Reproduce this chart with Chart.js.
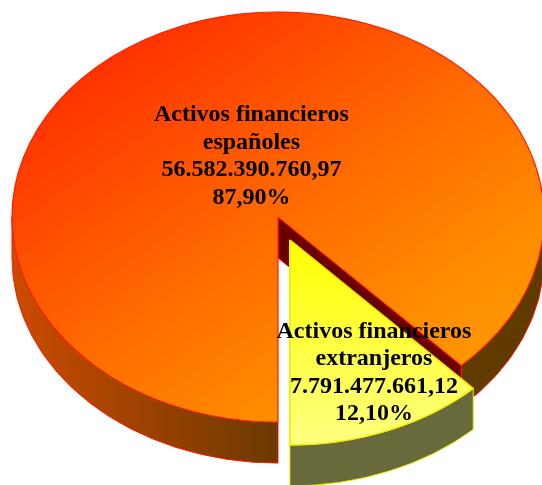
<!DOCTYPE html>
<html>
<head>
<meta charset="utf-8">
<script src="https://cdn.jsdelivr.net/npm/chart.js"></script>
<style>
html, body { margin: 0; padding: 0; background: #fff; }
#wrap { width: 542px; height: 485px; position: relative; overflow: hidden; }
</style>
</head>
<body>
<div id="wrap"><canvas id="pie"></canvas></div>
<script>
var categories = [['Activos financieros', 'españoles'], ['Activos financieros', 'extranjeros']];
var values = [56582390760.97, 7791477661.12];

// look of the 3D disc
var tilt = 0.771;          // vertical squash
var depth = 41;            // thickness of the disc
var discCenter = { x: 278, y: 217 };
var discRadius = 266;
var explode = [0, 32];
var labelRadius = [0.32, 0.72];
var labelNudge = [[5, 0], [13, -4]];
var edgeColors = ['#ff1a00', '#eeee00'];
var cutColor = '#6b0000';

function fmtEs(v) {
    var parts = v.toFixed(2).split('.');
    return parts[0].replace(/\B(?=(\d{3})+(?!\d))/g, '.') + ',' + parts[1];
}

function chartCenter(chart) {
    var a = chart.chartArea;
    return { x: (a.left + a.right) / 2, y: (a.top + a.bottom) / 2 };
}
function toScreen(chart, x, y) {
    var c = chartCenter(chart);
    return { x: discCenter.x + x - c.x, y: discCenter.y + (y - c.y) * tilt };
}
function fromScreen(chart, x, y) {
    var c = chartCenter(chart);
    return { x: x - discCenter.x + c.x, y: (y - discCenter.y) / tilt + c.y };
}

function wallFill(ctx, i, sx, R) {
    if (i === 1) return '#696a3b';
    var g = ctx.createLinearGradient(sx - R, 0, sx + R, 0);
    g.addColorStop(0, '#cc4b00');
    g.addColorStop(0.5, '#6b3900');
    g.addColorStop(1, '#5e3b00');
    return g;
}

var pie3d = {
    id: 'pie3d',
    afterDatasetUpdate: function(chart, args) {
        args.meta.data.forEach(function(arc, i) {
            var d = explode[i] || 0;
            if (!d) return;
            var h = (arc.startAngle + arc.endAngle) / 2;
            arc.x += Math.cos(h) * d;
            arc.y += Math.sin(h) * d;
        });
    },
    beforeDatasetsDraw: function(chart) {
        var ctx = chart.ctx;
        var meta = chart.getDatasetMeta(0);
        var TAU = Math.PI * 2;
        meta.data.forEach(function(arc, i) {
            var s = toScreen(chart, arc.x, arc.y);
            var R = arc.outerRadius;
            var a0 = arc.startAngle, a1 = arc.endAngle;
            ctx.save();
            ctx.lineWidth = 1;
            ctx.strokeStyle = edgeColors[i];
            // cut faces
            [[a1, Math.cos(a1)], [a0, -Math.cos(a0)]].forEach(function(e) {
                if (e[1] < 0.01) return;
                var px = s.x + R * Math.cos(e[0]), py = s.y + R * tilt * Math.sin(e[0]);
                ctx.beginPath();
                ctx.moveTo(s.x, s.y);
                ctx.lineTo(px, py);
                ctx.lineTo(px, py + depth);
                ctx.lineTo(s.x, s.y + depth);
                ctx.closePath();
                ctx.fillStyle = cutColor;
                ctx.fill();
                ctx.stroke();
            });
            // outer wall, front half only
            for (var k = -1; k <= 2; k++) {
                var lo = Math.max(a0, TAU * k), hi = Math.min(a1, TAU * k + Math.PI);
                if (lo >= hi) continue;
                ctx.beginPath();
                ctx.ellipse(s.x, s.y, R, R * tilt, 0, lo, hi, false);
                ctx.ellipse(s.x, s.y + depth, R, R * tilt, 0, hi, lo, true);
                ctx.closePath();
                ctx.fillStyle = wallFill(ctx, i, s.x, R);
                ctx.fill();
                ctx.stroke();
            }
            ctx.restore();
        });
        var c = chartCenter(chart);
        ctx.save();
        ctx.translate(discCenter.x, discCenter.y);
        ctx.scale(1, tilt);
        ctx.translate(-c.x, -c.y);
    },
    afterDatasetsDraw: function(chart) {
        var ctx = chart.ctx;
        ctx.restore();
        var meta = chart.getDatasetMeta(0);
        var total = values.reduce(function(a, b) { return a + b; }, 0);
        ctx.save();
        ctx.fillStyle = '#000';
        ctx.font = 'bold 24px "Liberation Serif", "Times New Roman", serif';
        ctx.textAlign = 'center';
        ctx.textBaseline = 'middle';
        meta.data.forEach(function(arc, i) {
            var s = toScreen(chart, arc.x, arc.y);
            var mid = (arc.startAngle + arc.endAngle) / 2;
            var r = arc.outerRadius * labelRadius[i];
            var px = s.x + Math.cos(mid) * r + labelNudge[i][0];
            var py = s.y + Math.sin(mid) * r * tilt + labelNudge[i][1];
            var pct = (values[i] / total * 100).toFixed(2).replace('.', ',') + '%';
            var lines = categories[i].concat([fmtEs(values[i]), pct]);
            var lh = 27.5;
            lines.forEach(function(t, j) {
                ctx.fillText(t, px, py + (j - (lines.length - 1) / 2) * lh);
            });
        });
        ctx.restore();
    }
};

var ctx = document.getElementById('pie').getContext('2d');
var pieChart = new Chart(ctx, {
    type: 'pie',
    data: {
        labels: categories,
        datasets: [{
            data: values,
            clip: 600,
            backgroundColor: function(c) {
                var chart = c.chart;
                if (!chart.chartArea) return null;
                var g;
                if (c.dataIndex === 0) {
                    var p0 = fromScreen(chart, 60, 40), p1 = fromScreen(chart, 480, 400);
                    g = chart.ctx.createLinearGradient(p0.x, p0.y, p1.x, p1.y);
                    g.addColorStop(0, '#ff2800');
                    g.addColorStop(0.5, '#ff6a00');
                    g.addColorStop(0.8, '#ff8d00');
                    g.addColorStop(1, '#ff9a00');
                } else {
                    var q0 = fromScreen(chart, 0, 240), q1 = fromScreen(chart, 0, 445);
                    g = chart.ctx.createLinearGradient(q0.x, q0.y, q1.x, q1.y);
                    g.addColorStop(0, '#ffff00');
                    g.addColorStop(1, '#ffff80');
                }
                return g;
            },
            borderColor: edgeColors,
            borderWidth: [1.2, 1.8],
            hoverOffset: 0
        }]
    },
    options: {
        responsive: true,
        maintainAspectRatio: false,
        animation: false,
        events: [],
        radius: discRadius,
        rotation: 180,
        layout: { padding: 0 },
        plugins: {
            legend: { display: false },
            tooltip: { enabled: false }
        }
    },
    plugins: [pie3d]
});
</script>
</body>
</html>
